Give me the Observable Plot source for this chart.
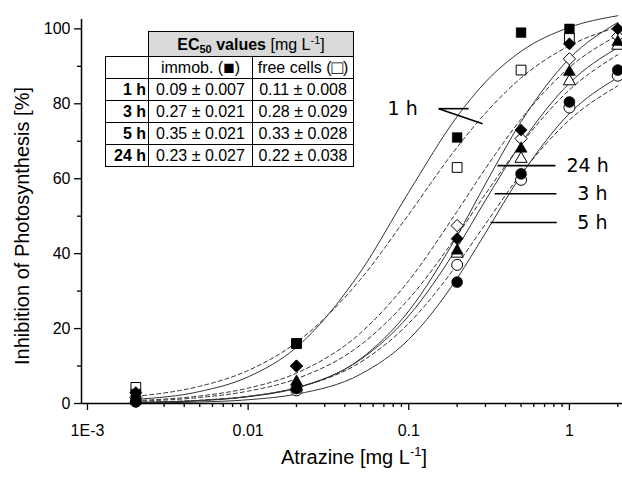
<!DOCTYPE html>
<html><head><meta charset="utf-8">
<script src="https://cdn.jsdelivr.net/npm/d3@7"></script>
<script src="https://cdn.jsdelivr.net/npm/@observablehq/plot@0.6"></script>
<style>
body{margin:0;background:#fff;}
#wrap{position:relative;width:622px;height:477px;font-family:"Liberation Sans",Arial,sans-serif;}
#wrap svg{position:absolute;left:0;top:0;}
table.ec{position:absolute;left:105px;top:31px;border-collapse:collapse;font-size:16px;color:#000;background:transparent;table-layout:fixed;}
table.ec td{border:1px solid #000;padding:0 2px;height:21px;line-height:21px;text-align:center;white-space:nowrap;background:#fff;overflow:hidden;}
table.ec td.blank{border:none;background:transparent;}
table.ec td.head{background:#d9d9d9;height:24px;font-size:16px;}
table.ec td.rl{text-align:right;font-weight:bold;padding-right:2px;}
.gl{font-size:19px;line-height:0;vertical-align:-1px;}
sub{font-size:11px;vertical-align:-3px;line-height:0;}
sup{font-size:11px;vertical-align:6px;line-height:0;}
</style></head>
<body><div id="wrap"></div>
<script>
// ---- data ----
const conc = [0.002, 0.02, 0.2, 0.5, 1, 2];
const sqImmob  = [2.5, 16, 71, 99, 100, null];
const sqFree   = [4.3, 16, 63, 89, 97.6, null];
const diaImmob = [2.9, 10, 44, 73, 96, 100];
const diaFree  = [1.6, 10, 47.5, 70.7, 92, 98];
const triImmob = [1.0, 5.8, 40.8, 68, 88.5, 96.5];
const triFree  = [0.8, 4.5, 40, 65.3, 86, 95.5];
const cirImmob = [0.5, 4.0, 32.4, 61.3, 80.5, 89];
const cirFree  = [0.5, 3.5, 37, 59.7, 79, 87.5];

// fitted curves read at these concentrations
const curveX = [0.002, 0.005, 0.01, 0.02, 0.05, 0.1, 0.2, 0.3, 0.5, 1, 2];
const fit1hImmob  = [1.1, 3.2, 7.1, 15.0, 35.1, 56.4, 76.6, 85.8, 94.0, 100.4, 103.5];
const fit1hFree   = [1.9, 4.6, 8.8, 16.3, 33.1, 50.5, 68.4, 77.5, 86.9, 95.5, 100.5];
const fit24hImmob = [0.24, 0.75, 1.8, 4.1, 11.9, 24.7, 44.8, 58.6, 75.2, 92.1, 101.7];
const fit24hFree  = [0.8, 2.0, 4.1, 8.1, 18.8, 32.8, 51.3, 62.7, 75.9, 89.7, 98.3];
const fit3hImmob  = [0.3, 0.8, 1.9, 4.2, 11.7, 23.4, 41.6, 54.2, 69.4, 85.5, 95.0];
const fit3hFree   = [0.6, 1.6, 3.3, 6.6, 15.6, 27.9, 44.9, 55.9, 69.2, 83.7, 93.1];
const fit5hImmob  = [0.1, 0.4, 1.0, 2.5, 7.8, 17.1, 33.4, 45.5, 60.9, 77.4, 87.0];
const fit5hFree   = [0.3, 0.9, 1.9, 4.2, 11.0, 21.4, 37.1, 47.9, 61.3, 75.7, 84.8];

const xMajor = [0.001, 0.01, 0.1, 1];
const xLabels = ["1E-3", "0.01", "0.1", "1"];
const xMinor = [0.002,0.003,0.004,0.005,0.006,0.007,0.008,0.009,0.02,0.03,0.04,0.05,0.06,0.07,0.08,0.09,0.2,0.3,0.4,0.5,0.6,0.7,0.8,0.9,2];
const yMajor = [0, 20, 40, 60, 80, 100];
const yMinor = [10, 30, 50, 70, 90];

// curve labels and pointer lines (data coordinates)
const labelText = ["1 h", "24 h", "3 h", "5 h"];
const labelX = [0.1137, 0.958, 1.12, 1.12];
const labelY = [78.7, 63.5, 56, 48.3];
const labelAnchor = ["end", "start", "start", "start"];
const ptrX1 = [0.1535, 0.1535, 0.819, 0.83, 0.835];
const ptrY1 = [78.7, 78.7, 63.5, 56, 48.3];
const ptrX2 = [0.236, 0.288, 0.357, 0.342, 0.323];
const ptrY2 = [78.7, 74.7, 63.5, 56, 48.3];

// table
const tableRows = ["1 h", "3 h", "5 h", "24 h"];
const ecImmob = ["0.09 ± 0.007", "0.27 ± 0.021", "0.35 ± 0.021", "0.23 ± 0.027"];
const ecFree  = ["0.11 ± 0.008", "0.28 ± 0.029", "0.33 ± 0.028", "0.22 ± 0.038"];

// ---- build ----
const pts = (vals) => conc.map((x, i) => ({x, y: vals[i]})).filter(d => d.y != null);
const crv = (vals) => curveX.map((x, i) => ({x, y: vals[i]}));

const solidCurves = [fit1hImmob, fit24hImmob, fit3hImmob, fit5hImmob];
const dashCurves = [fit1hFree, fit24hFree, fit3hFree, fit5hFree];
const openSeries = [[sqFree, "square", 5.5], [diaFree, "diamond2", 5.5], [triFree, "triangle", 4.5], [cirFree, "circle", 5.5]];
const filledSeries = [[sqImmob, "square", 5.5], [diaImmob, "diamond2", 5.5], [triImmob, "triangle", 4.5], [cirImmob, "circle", 5.5]];

const labels = labelText.map((t, i) => ({t, x: labelX[i], y: labelY[i], a: labelAnchor[i]}));
const ptrs = ptrX1.map((x, i) => ({x1: x, y1: ptrY1[i], x2: ptrX2[i], y2: ptrY2[i]}));

const marks = [];
dashCurves.forEach(c => marks.push(Plot.line(crv(c), {x: "x", y: "y", curve: "monotone-x", stroke: "#333", strokeWidth: 1, strokeDasharray: "4,3"})));
solidCurves.forEach(c => marks.push(Plot.line(crv(c), {x: "x", y: "y", curve: "monotone-x", stroke: "#333", strokeWidth: 1})));
marks.push(Plot.link(ptrs, {x1: "x1", y1: "y1", x2: "x2", y2: "y2", stroke: "#000", strokeWidth: 1.6}));
["start", "end"].forEach(a => marks.push(Plot.text(labels.filter(d => d.a === a), {x: "x", y: "y", text: "t", textAnchor: a, fontSize: 19, fontFamily: "DejaVu Sans", fill: "#000"})));
openSeries.forEach(([v, s, r]) => marks.push(Plot.dot(pts(v), {x: "x", y: "y", symbol: s, r, fill: "#fff", stroke: "#000", strokeWidth: 1})));
filledSeries.forEach(([v, s, r]) => marks.push(Plot.dot(pts(v), {x: "x", y: "y", symbol: s, r, fill: "#000", stroke: "#000", strokeWidth: 0.5})));
marks.push(Plot.ruleY([0], {stroke: "#000", strokeWidth: 1.5}));
marks.push(Plot.ruleX([0.000918], {stroke: "#000", strokeWidth: 1.5}));
marks.push(Plot.axisX(xMajor, {tickSize: 7, tickPadding: 14, strokeWidth: 1.3, fontSize: 16, label: null, tickFormat: d => xLabels[xMajor.indexOf(d)]}));
marks.push(Plot.axisX(xMinor, {tickSize: 4, strokeWidth: 1.3, text: null, label: null}));
marks.push(Plot.axisY(yMajor, {tickSize: 7, tickPadding: 4, strokeWidth: 1.3, fontSize: 16, label: null}));
marks.push(Plot.axisY(yMinor, {tickSize: 4, strokeWidth: 1.3, text: null, label: null}));

const chart = Plot.plot({
  width: 622, height: 477,
  marginLeft: 81, marginRight: 0, marginTop: 19, marginBottom: 74,
  x: {type: "log", domain: [0.000918, 2.14]},
  y: {domain: [0, 102.5]},
  style: {fontFamily: "Liberation Sans, Arial, sans-serif", fontSize: "16px", color: "#000", background: "transparent", overflow: "visible"},
  marks
});
const wrap = document.getElementById("wrap");
wrap.appendChild(chart);

// axis titles
const svg = d3.select(chart);
svg.append("text").attr("transform", "translate(24,226) rotate(-90)").attr("text-anchor", "middle").attr("dominant-baseline", "middle")
  .attr("font-size", 20).attr("font-family", "Liberation Sans, Arial").attr("fill", "#000").text("Inhibition of Photosynthesis [%]");
const xt = svg.append("text").attr("x", 354).attr("y", 464).attr("text-anchor", "middle")
  .attr("font-size", 20).attr("font-family", "Liberation Sans, Arial").attr("fill", "#000");
xt.append("tspan").text("Atrazine [mg L");
xt.append("tspan").attr("dy", -8).attr("font-size", 13).text("-1");
xt.append("tspan").attr("dy", 8).text("]");

// table
const tbl = document.createElement("table");
tbl.className = "ec";
let html = '<colgroup><col style="width:43px"><col style="width:104px"><col style="width:101px"></colgroup>';
html += '<tr><td class="blank"></td><td class="head" colspan="2"><b>EC<sub>50</sub> values</b> [mg L<sup>-1</sup>]</td></tr>';
html += '<tr><td></td><td>immob. (<span class="gl">■</span>)</td><td>free cells (<span class="gl">□</span>)</td></tr>';
tableRows.forEach((r, i) => { html += `<tr><td class="rl">${r}</td><td>${ecImmob[i]}</td><td>${ecFree[i]}</td></tr>`; });
tbl.innerHTML = html;
wrap.appendChild(tbl);
</script>
</body></html>
